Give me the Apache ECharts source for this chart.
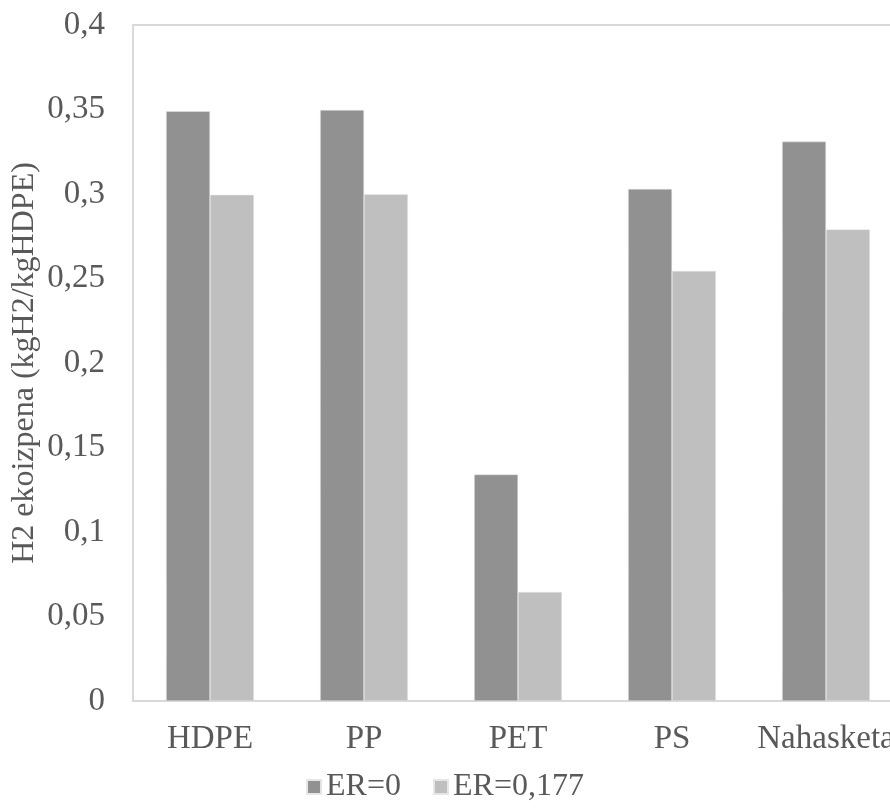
<!DOCTYPE html>
<html>
<head>
<meta charset="utf-8">
<script src="https://cdn.jsdelivr.net/npm/echarts@6/dist/echarts.min.js"></script>
<style>html,body{margin:0;padding:0;background:#fff}#c{width:890px;height:812px}</style>
</head>
<body>
<div id="c"></div>
<script>
const categories = ['HDPE', 'PP', 'PET', 'PS', 'Nahasketa'];
const seriesNames = ['ER=0', 'ER=0,177'];
const er0 = [0.349, 0.3497, 0.134, 0.303, 0.331];
const er0177 = [0.2995, 0.2998, 0.0645, 0.2545, 0.279];
const yMin = 0, yMax = 0.4, yStep = 0.05;
const yAxisTitle = 'H2 ekoizpena (kgH2/kgHDPE)';

const font = 'Liberation Serif, Times New Roman, serif';
const txt = '#595959';
const chart = echarts.init(document.getElementById('c'));
chart.setOption({
  animation: false,
  backgroundColor: '#fff',
  grid: { left: 133, top: 25, width: 770, bottom: 111, show: true, borderColor: '#d9d9d9', borderWidth: 2,
    containLabel: false, outerBoundsMode: 'none' },
  legend: {
    bottom: 4, left: 'center', itemWidth: 14, itemHeight: 14, itemGap: 32,
    icon: 'rect',
    textStyle: { fontFamily: font, fontSize: 32, color: txt },
    data: seriesNames
  },
  xAxis: {
    type: 'category', data: categories,
    axisLine: { show: true, lineStyle: { color: '#d9d9d9', width: 2 } },
    axisTick: { show: false },
    axisLabel: { fontFamily: font, fontSize: 33, color: txt, margin: 22, interval: 0, hideOverlap: false }
  },
  yAxis: {
    type: 'value', min: yMin, max: yMax, interval: yStep,
    name: yAxisTitle, nameLocation: 'middle', nameGap: 92, nameMoveOverlap: false,
    nameTextStyle: { fontFamily: font, fontSize: 32, color: txt },
    axisLine: { show: false }, axisTick: { show: false }, splitLine: { show: false },
    axisLabel: { fontFamily: font, fontSize: 33, color: txt, margin: 28,
      formatter: v => String(Math.round(v * 100) / 100).replace('.', ',') }
  },
  series: [
    { name: seriesNames[0], type: 'bar', data: er0, barGap: '0%', barCategoryGap: '43%',
      itemStyle: { color: '#919191', borderColor: '#e6e6e6', borderWidth: 0.5 } },
    { name: seriesNames[1], type: 'bar', data: er0177, barGap: '0%', barCategoryGap: '43%',
      itemStyle: { color: '#bfbfbf', borderColor: '#e6e6e6', borderWidth: 0.5 } }
  ]
});
</script>
</body>
</html>
